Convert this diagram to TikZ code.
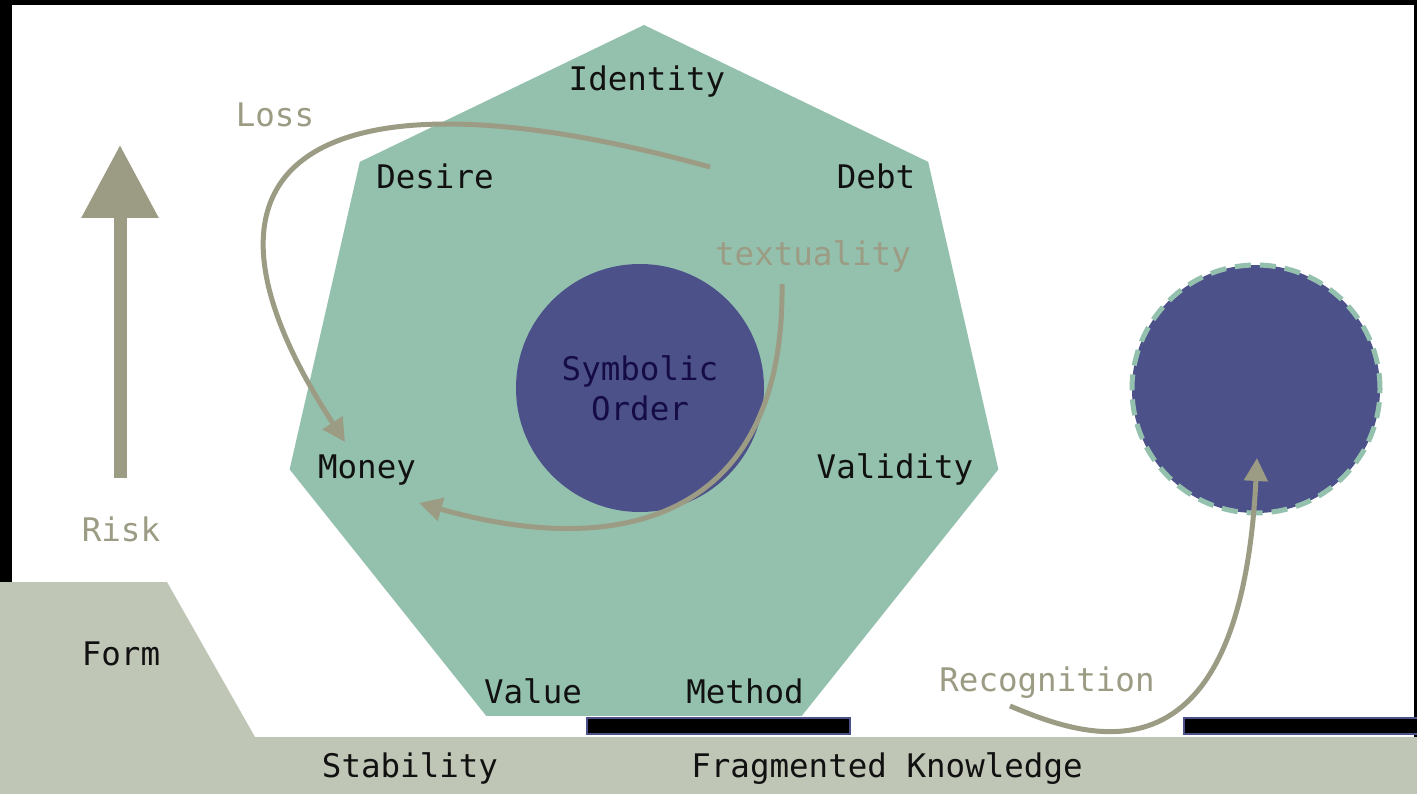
\documentclass[tikz,border=0pt]{standalone}
\usepackage{fontspec}
\setmainfont{DejaVu Sans Mono}
\usetikzlibrary{shapes.geometric,arrows.meta}
\definecolor{hept}{HTML}{94C1AD}
\definecolor{navy}{HTML}{4C518A}
\definecolor{arr}{HTML}{9C9B84}
\definecolor{band}{HTML}{C0C6B6}
\definecolor{symtext}{HTML}{160C45}
\definecolor{ink}{HTML}{111111}
\begin{document}
\begin{tikzpicture}[x=1pt,y=-1pt,
  lbl/.style={font=\fontsize{32.5}{39}\selectfont, text=ink, anchor=base, inner sep=0pt},
  glbl/.style={lbl, text=arr},
  flow/.style={draw=arr, line width=5pt, -{Triangle[length=23pt,width=23pt]}},
  bigflow/.style={draw=arr, line width=13pt, -{Triangle[length=73pt,width=74pt]}},
  bar/.style={fill=black, draw=navy, line width=1.5pt}]
\useasboundingbox (0,0) rectangle (1417,794);
% background
\fill[black] (0,0) rectangle (1417,794);
\fill[white] (12,5) rectangle (1414,737);
% ground band and form
\fill[band] (0,582) -- (167,582) -- (255,737) -- (1417,737) -- (1417,794) -- (0,794) -- cycle;
% heptagon
\node[regular polygon, regular polygon sides=7, minimum size=727pt, fill=hept, inner sep=0pt] (hept) at (644,388.5) {};
% central circle
\node[circle, minimum size=248pt, fill=navy, inner sep=0pt, align=center,
      font=\fontsize{32.5}{40}\selectfont, text=symtext] (sym) at (640,388) {Symbolic\\Order};
% recognition circle
\node[circle, minimum size=248pt, fill=navy, draw=hept, line width=5pt,
      dash pattern=on 16pt off 9pt, inner sep=0pt] (rec) at (1256,389) {};
% bars
\draw[bar] (587,718) rectangle (850,734);
\draw[bar] (1184,718) rectangle (1420,734);
% labels
\node[lbl] (identity) at (647,91) {Identity};
\node[lbl] (desire) at (435,189) {Desire};
\node[lbl] (debt) at (876,189) {Debt};
\node[glbl] (textuality) at (813,266) {textuality};
\node[lbl] (money) at (367,478) {Money};
\node[lbl] (validity) at (895,478) {Validity};
\node[lbl] (value) at (533,703) {Value};
\node[lbl] (method) at (745,703) {Method};
\node[glbl] (loss) at (275,127) {Loss};
\node[glbl] (risk) at (121,541) {Risk};
\node[lbl] (form) at (121,665) {Form};
\node[lbl] (stability) at (410,777) {Stability};
\node[lbl] (frag) at (887,777) {Fragmented Knowledge};
\node[glbl] (recog) at (1047,691) {Recognition};
% arrow end points
\coordinate (riskbot) at (120,478);
\coordinate (risktop) at (120,145);
\coordinate (lossstart) at (710,167);
\coordinate (losstip) at (345,442);
\coordinate (textstart) at (782,284);
\coordinate (texttip) at (419,503);
\coordinate (recstart) at (1010,706);
\coordinate (rectip) at (1257,458);
% arrows
\draw[bigflow] (riskbot) -- (risktop);
\draw[flow] (lossstart) .. controls (330,62) and (155,150) .. (losstip);
\draw[flow] (textstart) .. controls (785,520) and (620,560) .. (texttip);
\draw[flow] (recstart) .. controls (1080,735) and (1240,800) .. (rectip);
\end{tikzpicture}
\end{document}
